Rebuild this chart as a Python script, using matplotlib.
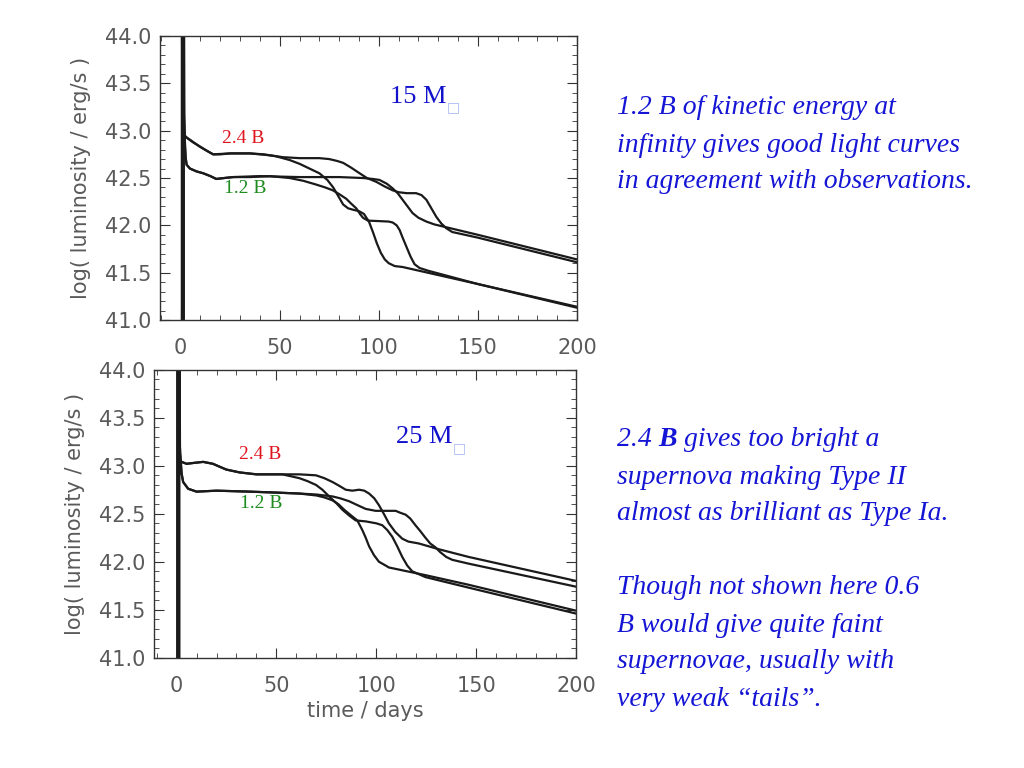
import matplotlib.pyplot as plt
from matplotlib.ticker import MultipleLocator

## the data: time (days) and log luminosity for the four models in each panel
# 15 Msun
t15_24a = [1.0, 1.0, 1.6, 2.0, 3.5, 6, 10, 13, 16.4, 20, 25, 35, 42, 48, 55, 60, 65, 70, 74, 77,
           79.5, 82, 84.5, 87, 90, 92.5, 95, 97, 99, 101, 103, 105, 108, 112, 150, 200]
L15_24a = [40.5, 45.0, 43.2, 42.95, 42.92, 42.88, 42.83, 42.79, 42.75, 42.75, 42.76, 42.76, 42.75,
           42.73, 42.69, 42.65, 42.60, 42.55, 42.48, 42.40, 42.31, 42.22, 42.18, 42.165, 42.15,
           42.12, 42.04, 41.93, 41.81, 41.71, 41.64, 41.60, 41.57, 41.56, 41.38, 41.14]

t15_12a = [1.6, 1.6, 1.9, 2.5, 3, 4.7, 8, 11.4, 15, 18, 22, 26.5, 35, 45, 55, 62, 68.5, 73, 76.8, 80,
           83.6, 86, 88.6, 90.5, 92, 94.5, 100, 105, 107, 109, 110.5, 112, 114, 116, 118, 120.5,
           125, 150, 200]
L15_12a = [40.5, 45.0, 43.0, 42.72, 42.64, 42.60, 42.57, 42.55, 42.52, 42.49, 42.50, 42.51, 42.51,
           42.52, 42.50, 42.47, 42.43, 42.40, 42.37, 42.33, 42.28, 42.23, 42.18, 42.12, 42.08,
           42.05, 42.045, 42.04, 42.03, 42.0, 41.95, 41.87, 41.77, 41.67, 41.59, 41.55, 41.52,
           41.38, 41.13]

t15_24b = [0.6, 0.6, 1.5, 2, 5, 9.7, 16.4, 25, 35, 45, 51.7, 60, 70, 75, 79, 82, 86, 90.3, 94, 98.7,
           103, 107, 110, 114, 118.8, 121.5, 124, 126.5, 129, 131.5, 134, 137, 150, 200]
L15_24b = [40.5, 45.0, 43.2, 42.94, 42.9, 42.83, 42.75, 42.76, 42.76, 42.74, 42.72, 42.71, 42.71,
           42.70, 42.68, 42.66, 42.61, 42.55, 42.50, 42.46, 42.41, 42.37, 42.35, 42.34, 42.34,
           42.32, 42.27, 42.18, 42.09, 42.02, 41.97, 41.93, 41.87, 41.61]

t15_12b = [1.3, 1.3, 1.7, 2.5, 3, 4.7, 8, 11.4, 15, 18, 22, 26.5, 40, 60, 80, 92, 97, 100.3, 104,
           107, 109.5, 112, 114.5, 117, 120, 124, 128, 132, 150, 200]
L15_12b = [40.5, 45.0, 43.0, 42.72, 42.64, 42.60, 42.57, 42.55, 42.52, 42.49, 42.50, 42.51, 42.52,
           42.51, 42.51, 42.50, 42.49, 42.48, 42.44, 42.39, 42.34, 42.27, 42.20, 42.13, 42.08,
           42.04, 42.01, 41.99, 41.90, 41.64]

# 25 Msun
t25_24b = [0.3, 0.3, 1.2, 1.6, 2.5, 5, 9, 13.3, 18.2, 21.5, 24.9, 31.6, 40, 53, 61.5, 69.8, 74,
           78.1, 81.5, 84.7, 88, 91.4, 94, 96.4, 99, 101.3, 104, 106.3, 109.5, 113, 116, 121.3,
           131.3, 146.2, 200]
L25_24b = [40.5, 45.0, 43.3, 43.06, 43.04, 43.02, 43.03, 43.04, 43.02, 42.99, 42.96, 42.93, 42.91,
           42.91, 42.91, 42.90, 42.87, 42.83, 42.79, 42.75, 42.74, 42.75, 42.74, 42.71, 42.66,
           42.59, 42.49, 42.40, 42.31, 42.24, 42.21, 42.19, 42.13, 42.05, 41.80]

t25_24a = [0.7, 0.7, 1.2, 1.6, 2.5, 5, 9, 13.3, 18.2, 21.5, 24.9, 31.6, 40, 53, 61.5, 65.5, 69.8,
           73, 76.4, 80, 83.1, 86.5, 89.7, 94.7, 100, 103, 105.5, 108, 110.5, 113, 115.5, 118,
           124.6, 146.2, 200]
L25_24a = [40.5, 45.0, 43.3, 43.06, 43.04, 43.02, 43.03, 43.04, 43.02, 42.99, 42.96, 42.93, 42.91,
           42.91, 42.87, 42.84, 42.80, 42.75, 42.68, 42.61, 42.54, 42.48, 42.43, 42.42, 42.40,
           42.38, 42.33, 42.26, 42.16, 42.05, 41.96, 41.90, 41.84, 41.73, 41.46]

t25_12b = [1.1, 1.1, 1.4, 2.5, 3.3, 5.8, 10, 20, 36.5, 50, 61.5, 70, 78.1, 82, 86.4, 90.5, 94.7,
           99.7, 105, 109.7, 112, 114.7, 117, 119.6, 122, 124.6, 127, 129.6, 132, 135, 138, 146.2,
           200]
L25_12b = [40.5, 45.0, 43.2, 42.92, 42.83, 42.76, 42.73, 42.74, 42.73, 42.72, 42.71, 42.70, 42.68,
           42.66, 42.63, 42.59, 42.55, 42.53, 42.53, 42.53, 42.51, 42.49, 42.45, 42.38, 42.32,
           42.25, 42.19, 42.15, 42.10, 42.05, 42.02, 41.98, 41.74]

t25_12a = [1.4, 1.4, 1.7, 2.5, 3.3, 5.8, 10, 20, 36.5, 50, 61.5, 70, 74, 78, 81, 84, 87.5, 90.5,
           93, 94.7, 96.4, 98.8, 101.3, 104.7, 106.3, 124.6, 146.2, 200]
L25_12a = [40.5, 45.0, 43.2, 42.92, 42.83, 42.76, 42.73, 42.74, 42.73, 42.72, 42.71, 42.69, 42.67,
           42.64, 42.60, 42.54, 42.48, 42.43, 42.33, 42.25, 42.16, 42.07, 42.00, 41.96, 41.94,
           41.86, 41.76, 41.49]

xTickMarks = [0, 50, 100, 150, 200]
yTickMarks = [41.0, 41.5, 42.0, 42.5, 43.0, 43.5, 44.0]

gray = '#5a5a5a'
serif = ['Liberation Serif', 'DejaVu Serif']
blue = '#1515d5'

fig = plt.figure(figsize=(10.24, 7.68), dpi=100)
ax1 = fig.add_axes([0.1563, 0.5833, 0.4072, 0.3698])
ax2 = fig.add_axes([0.1504, 0.1436, 0.4121, 0.375])


def setup(ax, xmin):
    ax.set_xlim(xmin, 200)
    ax.set_ylim(41.0, 44.0)
    ax.set_xticks(xTickMarks)
    ax.set_yticks(yTickMarks)
    ax.set_yticklabels(['%.1f' % v for v in yTickMarks])
    ax.xaxis.set_minor_locator(MultipleLocator(10))
    ax.yaxis.set_minor_locator(MultipleLocator(0.1))
    ax.tick_params(which='both', direction='in', top=True, right=True, color='#333333',
                   labelcolor=gray, labelsize=15)
    ax.tick_params(which='major', length=7)
    ax.tick_params(which='minor', length=3.5)
    ax.tick_params(axis='x', pad=13)
    ax.tick_params(axis='y', pad=6)
    for s in ax.spines.values():
        s.set_color('#333333')
        s.set_linewidth(1.0)
    ax.set_ylabel('log( luminosity / erg/s )', color=gray, fontsize=15, labelpad=10)


def mass_label(ax, x, y, txt):
    t = ax.text(x, y, txt, family=serif, fontsize=19, color='#1212cc', ha='center', va='center')
    ax.annotate('\u25a1', xy=(1, 0.0), xycoords=t, family=['DejaVu Sans'], fontsize=10,
                color='#a8b8f0', ha='left', va='center')


setup(ax1, -10.4)
for t, L in [(t15_24a, L15_24a), (t15_12a, L15_12a), (t15_24b, L15_24b), (t15_12b, L15_12b)]:
    ax1.plot(t, L, color='#1a1a1a', lw=1.6)
ax1.text(31.4, 42.92, '2.4 B', family=serif, fontsize=14, color='#e0141e', ha='center', va='center')
ax1.text(32.4, 42.39, '1.2 B', family=serif, fontsize=14, color='#1e8c1e', ha='center', va='center')
mass_label(ax1, 120, 43.36, '15 M')

setup(ax2, -11.3)
for t, L in [(t25_24a, L25_24a), (t25_12a, L25_12a), (t25_24b, L25_24b), (t25_12b, L25_12b)]:
    ax2.plot(t, L, color='#1a1a1a', lw=1.6)
ax2.text(42, 43.12, '2.4 B', family=serif, fontsize=14, color='#e0141e', ha='center', va='center')
ax2.text(42.5, 42.61, '1.2 B', family=serif, fontsize=14, color='#1e8c1e', ha='center', va='center')
mass_label(ax2, 124, 43.30, '25 M')
ax2.set_xlabel('time / days', color=gray, fontsize=15, labelpad=4)

# right-hand commentary
fs = 20
block1 = ['1.2 B of kinetic energy at',
          'infinity gives good light curves',
          'in agreement with observations.']
for i, line in enumerate(block1):
    fig.text(617 / 1024, 1 - (108 + 37 * i) / 768, line, family=serif, style='italic',
             fontsize=fs, color=blue, va='center')

ypix = 440
a = fig.text(617 / 1024, 1 - ypix / 768, '2.4 ', family=serif, style='italic', fontsize=fs,
             color=blue, va='center')
bb = plt.annotate('B', xy=(1, 0), xycoords=a, family=serif, style='italic', weight='bold',
                  fontsize=fs, color=blue, va='bottom', ha='left')
plt.annotate(' gives too bright a', xy=(1, 0), xycoords=bb, family=serif, style='italic',
             fontsize=fs, color=blue, va='bottom', ha='left')

block2 = ['supernova making Type II',
          'almost as brilliant as Type Ia.',
          '',
          'Though not shown here 0.6',
          'B would give quite faint',
          'supernovae, usually with',
          'very weak \u201ctails\u201d.']
for i, line in enumerate(block2):
    fig.text(617 / 1024, 1 - (477 + 37 * i) / 768, line, family=serif, style='italic',
             fontsize=fs, color=blue, va='center')

fig.savefig('out.png', dpi=100)
